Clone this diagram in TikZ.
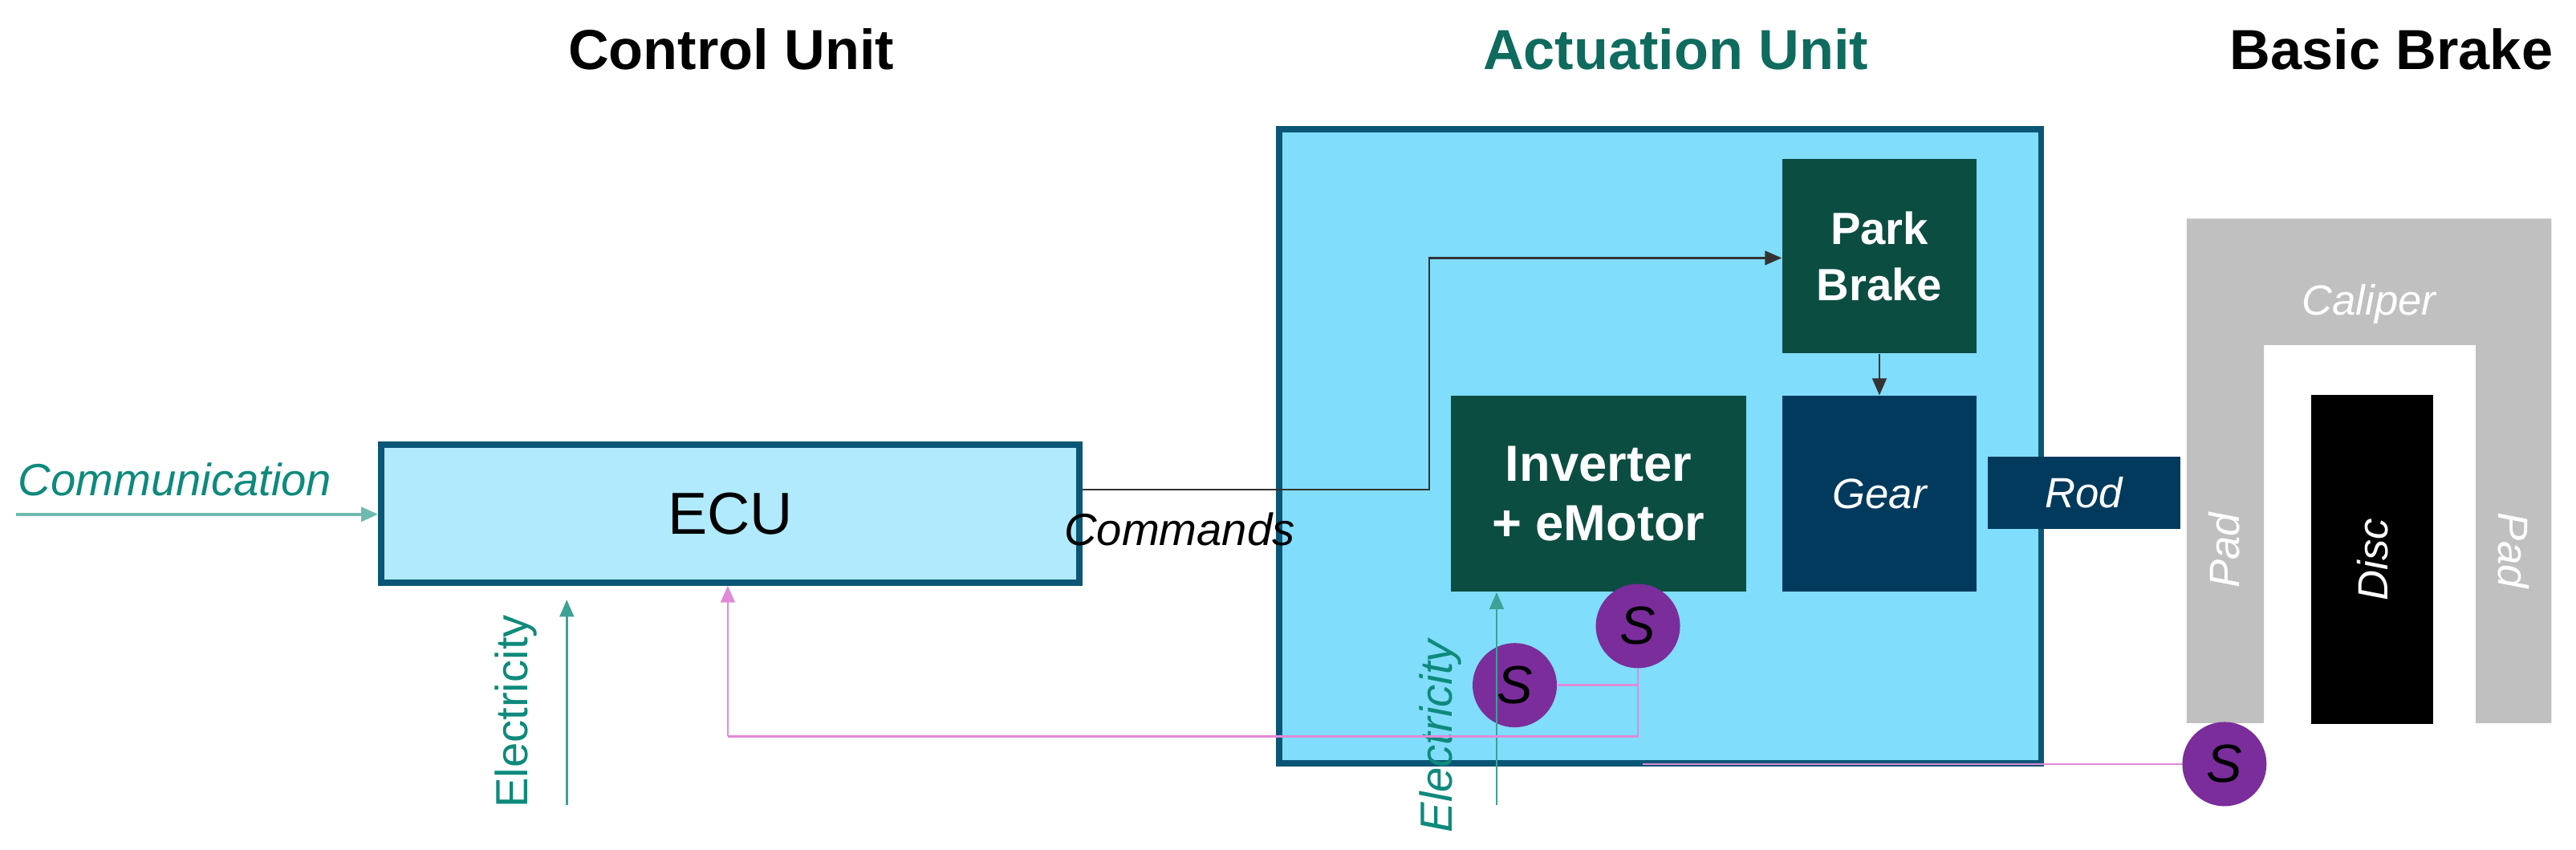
\documentclass[tikz,border=0pt]{standalone}
\usepackage{fontspec}
\setmainfont{Liberation Sans}
\usetikzlibrary{arrows.meta, positioning, calc}

\definecolor{actfill}{HTML}{80DDFB}
\definecolor{ecufill}{HTML}{B0EAFC}
\definecolor{boxline}{HTML}{0B5676}
\definecolor{darkgreen}{HTML}{0C4D42}
\definecolor{navy}{HTML}{023A5E}
\definecolor{teal}{HTML}{0E8A7C}
\definecolor{titleteal}{HTML}{0E6B5E}
\definecolor{sigpink}{HTML}{E08AD8}
\definecolor{sensor}{HTML}{7B2D9C}
\definecolor{caliper}{HTML}{C0C0C0}

\begin{document}
\begin{tikzpicture}[
    x=0.02047cm, y=-0.02047cm,
    title/.style={font=\fontsize{20}{22}\selectfont\bfseries},
    unit/.style={rectangle, draw=boxline, line width=2.2pt},
    block/.style={rectangle, text=white, font=\fontsize{18}{21}\selectfont\bfseries, align=center, inner sep=0pt},
    part/.style={font=\fontsize{15}{17}\selectfont\itshape, text=white},
    sensor/.style={circle, fill=sensor, minimum size=1.05cm, inner sep=0pt, font=\fontsize{19}{21}\selectfont\itshape},
    flow/.style={-{Triangle[length=6pt,width=5pt]}, thick},
    label/.style={font=\fontsize{16}{18}\selectfont\itshape}
]
    \useasboundingbox (0,0) rectangle (1568,517);

    % Titles
    \node[title] (tcontrol) at (445,30) {Control Unit};
    \node[title, text=titleteal] (tactuation) at (1020,30) {Actuation Unit};
    \node[title, anchor=east] (tbrake) at (1560,30) {Basic Brake};

    % Control unit
    \node[unit, fill=ecufill, minimum width=8.7cm, minimum height=1.72cm,
          font=\fontsize{21}{23}\selectfont] (ecu) at (444.5,312.5) {ECU};

    % Actuation unit
    \node[unit, fill=actfill, minimum width=9.5cm, minimum height=7.9cm] (act) at (1010.5,271.5) {};
    \node[block, fill=darkgreen, minimum width=2.42cm, minimum height=2.42cm, font=\fontsize{16}{20}\selectfont\bfseries] (park) at (1144,156) {Park\\Brake};
    \node[block, fill=navy, minimum width=2.42cm, minimum height=2.44cm, part] (gear) at (1144,300.5) {Gear};
    \node[block, fill=darkgreen, minimum width=3.68cm, minimum height=2.44cm] (inv) at (973,300.5) {Inverter\\+ eMotor};
    \node[block, fill=navy, minimum width=2.4cm, minimum height=0.9cm, part] (rod) at (1268.5,300) {Rod};

    % Basic brake
    \fill[caliper] (1331,440) -- (1331,133) -- (1553,133) -- (1553,440) -- (1507,440)
        -- (1507,210) -- (1378,210) -- (1378,440) -- cycle;
    \node[part] (cal) at (1442,185) {Caliper};
    \node[part, rotate=90] (padl) at (1354,335) {Pad};
    \node[part, rotate=-90] (padr) at (1530,335) {Pad};
    \node[fill=black, minimum width=1.52cm, minimum height=4.1cm, inner sep=0pt, part] (disc) at (1444,340.5) {\rotatebox{90}{Disc}};

    % Sensors
    \node[sensor] (s1) at (922,417) {S};
    \node[sensor] (s2) at (997,381) {S};
    \node[sensor] (s3) at (1354,465) {S};

    % Signals
    \coordinate (ccomm) at (10,313);
    \draw[flow, teal!60, line width=1.2pt] (ccomm) -- (ecu.west |- ccomm);
    \node[label, text=teal, anchor=south west] (lcomm) at (5,308) {Communication};

    \coordinate (ce1) at (345,490);
    \draw[flow, teal!80] (ce1) -- (345,365);
    \node[font=\fontsize{16}{18}\selectfont, text=teal, rotate=90] (le1) at (314,433) {Electricity};

    \coordinate (ce2) at (911,490);
    \draw[flow, teal!80] (ce2) -- (inv.south -| ce2);
    \node[label, text=teal, rotate=90] (le2) at (877,448) {Electricity};

    \draw[flow, black!80] (ecu.east |- 0,298) -- (act.west |- 0,298) -- (870,298) -- (870,157) -- (park.west |- 0,157);
    \node[label, anchor=north] (lcmd) at (718,306) {Commands};
    \draw[flow, black!80] (park) -- (gear);

    \draw[sigpink, thick] (s1) -- (s1 -| s2) (s2) |- (443,448);
    \draw[flow, sigpink] (443,448) -- (ecu.south -| 443,0);
    \draw[sigpink, thick] (s3) -- (1000,465);
\end{tikzpicture}
\end{document}
